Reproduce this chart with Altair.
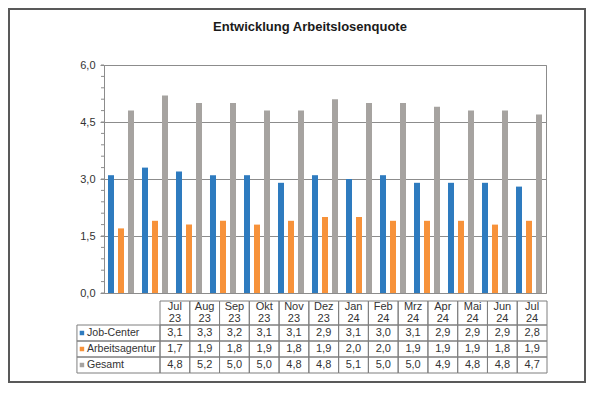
import altair as alt
import pandas as pd

# ---- data ----
title_text = "Entwicklung  Arbeitslosenquote"
months = ["Jul", "Aug", "Sep", "Okt", "Nov", "Dez", "Jan", "Feb", "Mrz", "Apr", "Mai", "Jun", "Jul"]
years = ["23", "23", "23", "23", "23", "23", "24", "24", "24", "24", "24", "24", "24"]
series = ["Job-Center", "Arbeitsagentur", "Gesamt"]
job_center = [3.1, 3.3, 3.2, 3.1, 3.1, 2.9, 3.1, 3.0, 3.1, 2.9, 2.9, 2.9, 2.8]
arbeitsagentur = [1.7, 1.9, 1.8, 1.9, 1.8, 1.9, 2.0, 2.0, 1.9, 1.9, 1.9, 1.8, 1.9]
gesamt = [4.8, 5.2, 5.0, 5.0, 4.8, 4.8, 5.1, 5.0, 5.0, 4.9, 4.8, 4.8, 4.7]
colors = ["#2E7BBF", "#F7923A", "#A6A3A0"]
y_major = [0, 1.5, 3.0, 4.5, 6.0]
y_minor = [0, 0.3, 0.6, 0.9, 1.2, 1.5, 1.8, 2.1, 2.4, 2.7, 3.0, 3.3, 3.6, 3.9,
           4.2, 4.5, 4.8, 5.1, 5.4, 5.7, 6.0]

values = {"Job-Center": job_center, "Arbeitsagentur": arbeitsagentur, "Gesamt": gesamt}
keys = [f"{m} {y}" for m, y in zip(months, years)]


def fmt(v):
    return f"{v:.1f}".replace(".", ",")


bars_df = pd.DataFrame(
    [{"month": k, "series": s, "value": v} for s in series for k, v in zip(keys, values[s])]
)

# table cells
LABEL_W = 2.79
cells = []
heads = []
for i, (m, y) in enumerate(zip(months, years)):
    cells.append({"c0": i, "c1": i + 1, "r0": 0.0, "r1": 1.5, "cx": i + 0.5, "cy": 0.75,
                  "text": ""})
    heads.append({"cx": i + 0.5, "cy": 0.4, "text": m})
    heads.append({"cx": i + 0.5, "cy": 1.13, "text": y})
    for r, s in enumerate(series):
        cells.append({"c0": i, "c1": i + 1, "r0": 1.5 + r, "r1": 2.5 + r, "cx": i + 0.5,
                      "cy": 2.0 + r, "text": fmt(values[s][i])})
cells_df = pd.DataFrame(cells)
heads_df = pd.DataFrame(heads)
label_df = pd.DataFrame(
    [{"c0": -LABEL_W, "c1": 0, "r0": 1.5 + r, "r1": 2.5 + r, "cy": 2.0 + r, "series": s}
     for r, s in enumerate(series)]
)

FONT = "Liberation Sans"
GRID = "#8c8c8c"
TXT = "#333333"

color_scale = alt.Scale(domain=series, range=colors)
tx = alt.Scale(domain=[0, 13], range=[56, 443], nice=False, zero=False)
ty = alt.Scale(domain=[0, 4.5], range=[236, 308], nice=False, zero=False)
yscale = alt.Scale(domain=[0, 6], nice=False)

one = pd.DataFrame({"a": [0]})

frame = alt.Chart(one).mark_rect(fillOpacity=0, stroke="#595959", strokeWidth=2).encode(
    x=alt.value(-95), x2=alt.value(481), y=alt.value(-56), y2=alt.value(317)
)

title = alt.Chart(one).mark_text(
    text=title_text, fontSize=13, fontWeight="bold", font=FONT, color="#1a1a1a",
    align="center", baseline="middle"
).encode(x=alt.value(206), y=alt.value(-38))

bars = alt.Chart(bars_df).mark_bar().encode(
    x=alt.X("month:N", sort=keys, axis=None,
            scale=alt.Scale(paddingInner=0.235, paddingOuter=0.1175)),
    xOffset=alt.XOffset("series:N", sort=series,
                        scale=alt.Scale(paddingInner=0.4, paddingOuter=0)),
    y=alt.Y("value:Q", scale=yscale,
            axis=alt.Axis(values=y_major, title=None,
                          labelExpr="replace(format(datum.value, '.1f'), '.', ',')",
                          grid=True, gridColor=GRID, domainColor=GRID, tickColor=GRID,
                          tickSize=4, labelPadding=5, labelFontSize=11, labelColor=TXT,
                          labelFont=FONT)),
    color=alt.Color("series:N", scale=color_scale, legend=None),
)

minor = alt.Chart(pd.DataFrame({"t": y_minor})).mark_rule(color=GRID).encode(
    y=alt.Y("t:Q", scale=yscale, axis=None),
    x=alt.value(-3), x2=alt.value(0),
)

rects = alt.Chart(cells_df).mark_rect(fillOpacity=0, stroke="#7f7f7f", strokeWidth=1).encode(
    x=alt.X("c0:Q", scale=tx, axis=None), x2="c1:Q",
    y=alt.Y("r0:Q", scale=ty, axis=None), y2="r1:Q",
)
texts = alt.Chart(cells_df).mark_text(
    fontSize=11, font=FONT, color=TXT, baseline="middle"
).encode(
    x=alt.X("cx:Q", scale=tx, axis=None),
    y=alt.Y("cy:Q", scale=ty, axis=None),
    text="text:N",
)
head_texts = alt.Chart(heads_df).mark_text(
    fontSize=11, font=FONT, color=TXT, baseline="middle"
).encode(
    x=alt.X("cx:Q", scale=tx, axis=None),
    y=alt.Y("cy:Q", scale=ty, axis=None),
    text="text:N",
)
label_rects = alt.Chart(label_df).mark_rect(fillOpacity=0, stroke="#7f7f7f", strokeWidth=1).encode(
    x=alt.X("c0:Q", scale=tx, axis=None), x2="c1:Q",
    y=alt.Y("r0:Q", scale=ty, axis=None), y2="r1:Q",
)
label_text = alt.Chart(label_df).mark_text(
    fontSize=10.6, font=FONT, color=TXT, align="left", baseline="middle", dx=10
).encode(
    x=alt.X("c0:Q", scale=tx, axis=None),
    y=alt.Y("cy:Q", scale=ty, axis=None),
    text="series:N",
)
label_sq = alt.Chart(label_df).mark_point(shape="square", filled=True, size=20, opacity=1, xOffset=5).encode(
    x=alt.X("c0:Q", scale=tx, axis=None),
    y=alt.Y("cy:Q", scale=ty, axis=None),
    color=alt.Color("series:N", scale=color_scale, legend=None),
)

chart = alt.layer(
    frame, title, bars, minor, rects, texts, head_texts, label_rects, label_text, label_sq
).resolve_scale(x="independent", y="independent").properties(
    width=442, height=228, padding=0, background="white"
).configure_view(stroke=GRID, strokeWidth=1)

chart.save("out.html", embed_options={"renderer": "svg", "actions": False})
